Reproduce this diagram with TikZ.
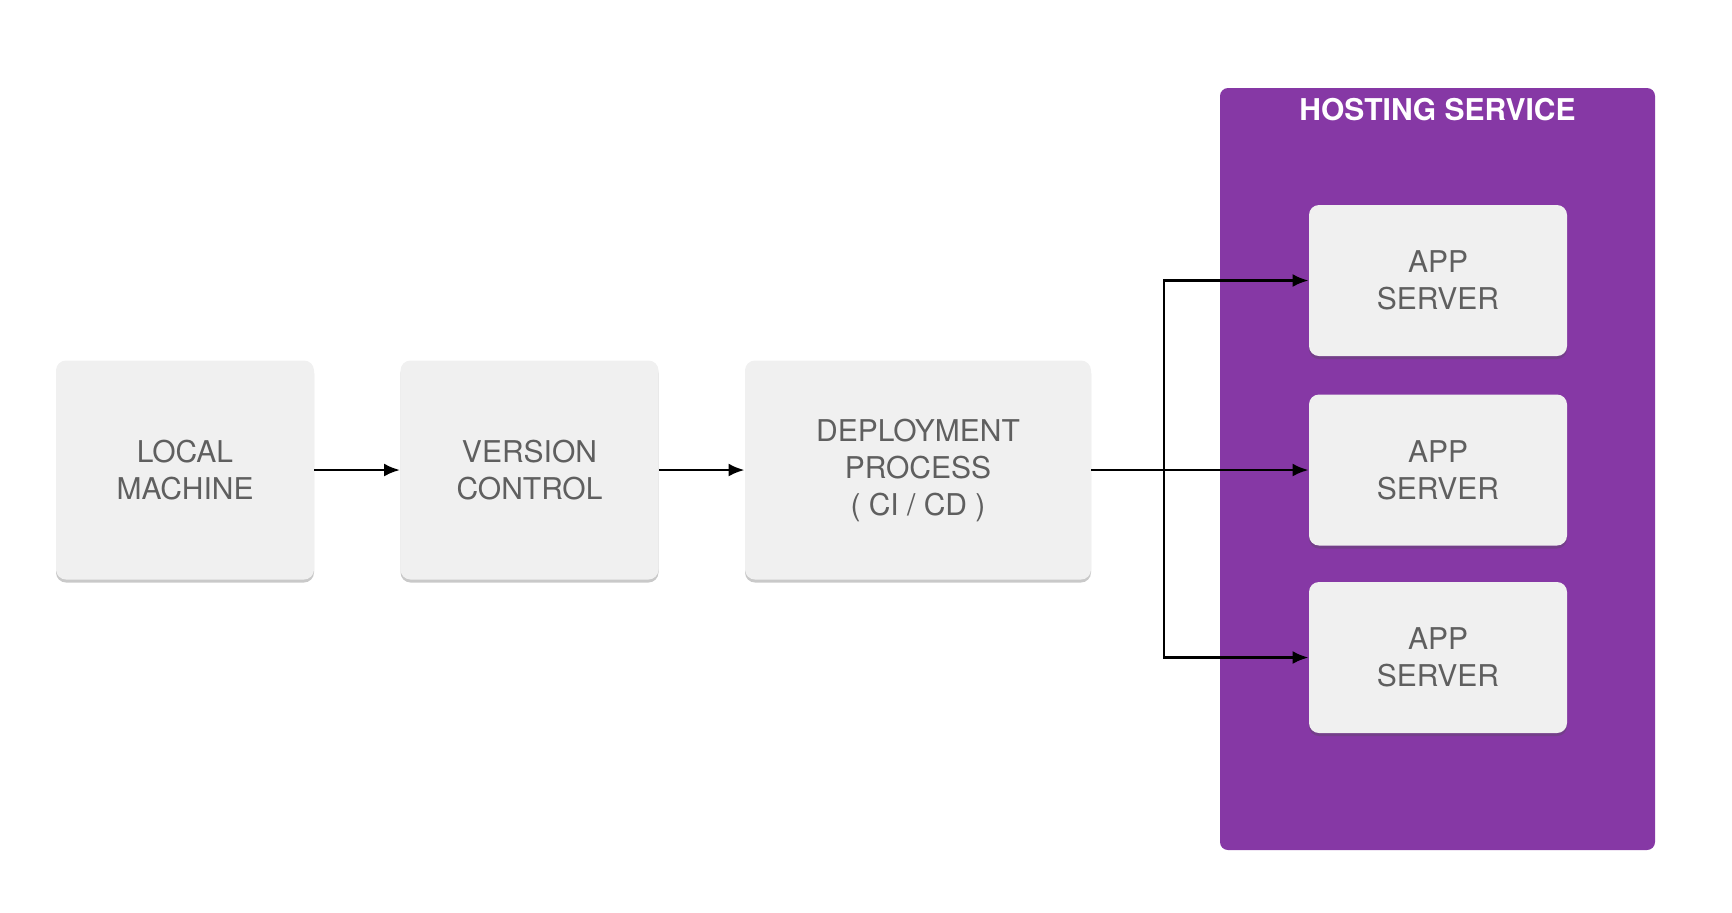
\documentclass[tikz,border=0pt]{standalone}
\usepackage{fontspec}
\setmainfont{TeX Gyre Heros}
\usetikzlibrary{positioning,shadows,arrows.meta}
\definecolor{hostpurple}{RGB}{134,56,165}
\definecolor{boxgray}{RGB}{240,240,240}
\definecolor{textgray}{RGB}{95,95,95}

\begin{document}
\begin{tikzpicture}[x=0.5pt, y=-0.5pt, font=\fontsize{15}{18.5}\selectfont,
  stage/.style={rounded corners=5pt, fill=boxgray, text=textgray, align=center,
    minimum width=129pt, minimum height=109.5pt,
    drop shadow={shadow xshift=0pt, shadow yshift=-1.5pt, opacity=0.3, fill=black!70}},
  flow/.style={-{Latex[length=8pt,width=6.5pt]}, line width=1.4pt}]
  \useasboundingbox (0,0) rectangle (1732,912);

  \node[fill=hostpurple, rounded corners=4pt, minimum width=217.5pt, minimum height=381pt] (host) at (1437.5,469) {};
  \node[text=white, font=\bfseries\fontsize{15}{18}\selectfont] (hosttitle) at (1437.5,110) {HOSTING SERVICE};

  \node[stage] (local) at (185,470) {LOCAL\\MACHINE};
  \node[stage] (vcs) at (529.5,470) {VERSION\\CONTROL};
  \node[stage, minimum width=173pt] (deploy) at (918,470) {DEPLOYMENT\\PROCESS\\( CI / CD )};
  \foreach \i/\y in {1/280.5, 2/470, 3/657.5}
    \node[stage, minimum height=75.5pt] (app\i) at (1438,\y) {APP\\SERVER};

  \coordinate (split) at (1164,470);
  \draw[flow] (local) -- (vcs);
  \draw[flow] (vcs) -- (deploy);
  \draw[flow] (deploy) -- (app2);
  \draw[flow] (split) |- (app1);
  \draw[flow] (split) |- (app3);
\end{tikzpicture}
\end{document}
